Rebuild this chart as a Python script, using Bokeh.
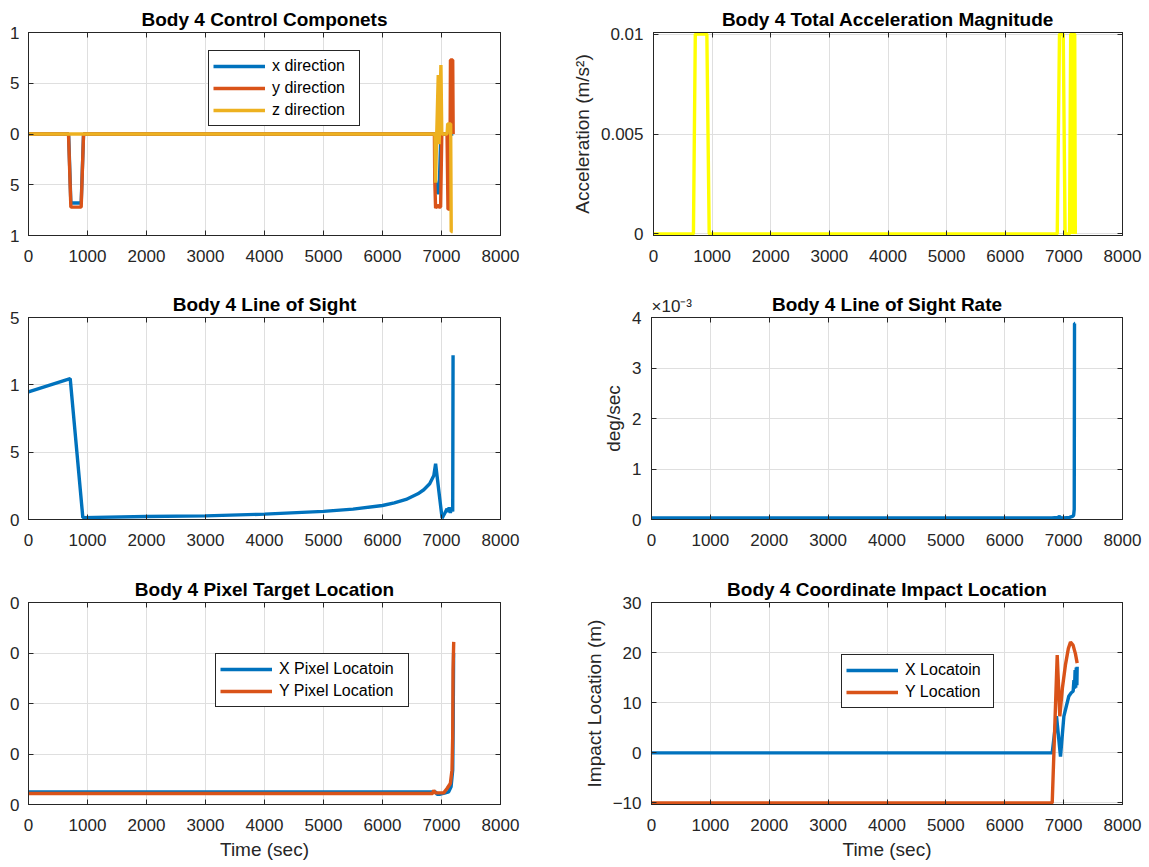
from bokeh.plotting import figure
from bokeh.layouts import column, row
from bokeh.models import Range1d, FixedTicker, Legend, LegendItem, Title, LinearAxis
from bokeh.embed import file_html
from bokeh.resources import INLINE

# ---------------- data ----------------
x_ticks = [0, 1000, 2000, 3000, 4000, 5000, 6000, 7000, 8000]

# Body 4 Control Componets
ctrl_x_t = [0, 680, 718, 893, 933, 6886, 6895, 6930, 6958, 6985, 7000, 7200]
ctrl_x = [0, 0, -0.68, -0.68, 0, 0, -0.45, -0.58, -0.58, -0.1, 0, 0]
ctrl_y_t = [0, 678, 718, 893, 933, 6880, 6886, 6900, 6930, 6960, 6985, 7005,
            7094, 7110, 7140, 7152, 7190, 7198]
ctrl_y = [0, 0, -0.72, -0.72, 0, 0, -0.46, -0.73, -0.70, -0.72, -0.72, 0,
          0, -0.74, -0.74, 0.73, 0.73, 0]
ctrl_z_t = [0, 6890, 6898, 6945, 6960, 6990, 7005, 7095, 7105, 7155, 7165, 7190]
ctrl_z = [0, 0, -0.48, 0.58, -0.1, 0.68, 0, 0, 0.1, 0.1, -0.96, -0.96]

# Body 4 Total Acceleration Magnitude
acc_t = [0, 681, 713, 910, 950, 6887, 6925, 6989, 7021, 7097, 7116, 7142,
         7150, 7161, 7185, 7195]
acc = [0, 0, 0.01, 0.01, 0, 0, 0.01, 0.01, 0, 0, 0.01, 0.01,
       0, 0.01, 0.01, 0]

# Body 4 Line of Sight
los_t = [0, 707, 921, 2000, 3000, 4000, 5000, 5500, 6000, 6200, 6400, 6600,
         6700, 6800, 6870, 6900, 7010, 7060, 7094, 7110, 7130, 7150, 7170,
         7190, 7196]
los = [0.947, 1.046, 0.014, 0.022, 0.027, 0.04, 0.06, 0.077, 0.104, 0.124,
       0.149, 0.191, 0.221, 0.265, 0.327, 0.414, 0.01, 0.05, 0.08, 0.055,
       0.09, 0.05, 0.08, 0.06, 1.22]

# Body 4 Line of Sight Rate (deg/sec, in units of 1e-3)
rate_t = [0, 6800, 6900, 6930, 6960, 7000, 7100, 7150, 7170, 7180, 7185, 7195]
rate_e3 = [0.03, 0.03, 0.04, 0.06, 0.03, 0.03, 0.04, 0.06, 0.08, 0.2, 3.88, 3.88]

# Body 4 Pixel Target Location
pix_x_t = [0, 6800, 6900, 6925, 6980, 7050, 7122, 7162, 7190, 7198, 7205]
pix_x = [125, 125, 124, 102, 102, 112, 125, 175, 340, 800, 1500]
pix_y_t = [0, 6850, 6868, 6890, 7038, 7094, 7150, 7178, 7190, 7196, 7207]
pix_y = [109, 109, 142, 115, 115, 158, 208, 340, 670, 1330, 1610]

# Body 4 Coordinate Impact Location
imp_x_t = [0, 6806, 6879, 6947, 7004, 7050, 7088, 7130, 7162, 7175, 7185,
           7195, 7205, 7215, 7225, 7230]
imp_x = [0, 0, 7.3, -0.75, 7.3, 9.5, 11.3, 12.0, 12.3, 14.5, 12.8, 16.5,
         13.0, 17.0, 13.5, 17.2]
imp_y_t = [0, 6806, 6891, 6935, 6980, 7030, 7080, 7117, 7160, 7200, 7230]
imp_y = [-10, -10, 19.5, 7.3, 13.0, 17.5, 20.8, 22.1, 21.5, 19.8, 17.9]

# ---------------- style ----------------
FONT = "Liberation Sans"
TXT = "#262626"
GRID = "#dfdfdf"
BLUE = "#0072BD"
ORANGE = "#D95319"
GOLD = "#EDB120"
YELLOW = "#FFFF00"
LW = 3.4


def style_axis(ax, standoff):
    ax.axis_line_color = TXT
    ax.major_tick_line_color = TXT
    ax.major_tick_in = 5
    ax.major_tick_out = 0
    ax.minor_tick_line_color = None
    ax.major_label_text_font = FONT
    ax.major_label_text_font_size = "17px"
    ax.major_label_text_color = TXT
    ax.major_label_standoff = standoff
    ax.axis_label_text_font = FONT
    ax.axis_label_text_font_size = "19px"
    ax.axis_label_text_font_style = "normal"
    ax.axis_label_text_color = TXT
    ax.axis_label_standoff = 5


def make_fig(width, height, borders, title, yr, yticks, overrides=None,
             ylabel=None, xlabel=None, ystand=10):
    left, right, top, bottom = borders
    p = figure(width=width, height=height, x_range=Range1d(0, 8000),
               y_range=Range1d(*yr), output_backend="svg",
               toolbar_location=None, min_border_left=left,
               min_border_right=right, min_border_top=top,
               min_border_bottom=bottom, title=title)
    p.title.text_font = FONT
    p.title.text_font_size = "19px"
    p.title.text_font_style = "bold"
    p.title.text_color = "#000000"
    p.title.align = "center"
    p.title.standoff = 5
    p.outline_line_color = TXT
    p.outline_line_alpha = 1
    p.outline_line_width = 1
    p.background_fill_color = "white"
    p.border_fill_color = "white"
    p.xaxis.ticker = FixedTicker(ticks=x_ticks)
    p.yaxis.ticker = FixedTicker(ticks=yticks)
    style_axis(p.xaxis[0], 14)
    style_axis(p.yaxis[0], ystand)
    if overrides is not None:
        p.yaxis.major_label_overrides = overrides
    if ylabel:
        p.yaxis.axis_label = ylabel
    if xlabel:
        p.xaxis.axis_label = xlabel
    p.grid.grid_line_color = GRID
    p.grid.grid_line_alpha = 1
    p.grid.grid_line_width = 1
    # inward ticks on the right and top sides (MATLAB box); no labels drawn
    for side, tk in (("right", yticks), ("above", x_ticks)):
        ax = LinearAxis(ticker=FixedTicker(ticks=tk))
        style_axis(ax, 0)
        ax.major_label_text_font_size = "1px"
        ax.major_label_text_color = None
        ax.major_label_standoff = 0
        p.add_layout(ax, side)
    return p


def make_legend(p, items, loc, label_width):
    leg = Legend(items=[LegendItem(label=l, renderers=[r]) for l, r in items],
                 location=loc)
    leg.border_line_color = TXT
    leg.border_line_width = 1
    leg.border_line_alpha = 1
    leg.background_fill_color = "white"
    leg.background_fill_alpha = 1
    leg.label_text_font = FONT
    leg.label_text_font_size = "16px"
    leg.label_text_color = "#000000"
    leg.glyph_width = 52
    leg.glyph_height = 22
    leg.label_height = 22
    leg.label_width = label_width
    leg.spacing = 0
    leg.padding = 4
    leg.margin = 0
    leg.label_standoff = 7
    p.add_layout(leg)


LEFT_B = (28, 68)
RIGHT_B = (83, 27)
W_L, W_R = 568, 581

# Row 1
p1 = make_fig(W_L, 280, (*LEFT_B, 32, 45), "Body 4 Control Componets", (-1, 1),
              [-1, -0.5, 0, 0.5, 1],
              overrides={-1: "1", -0.5: "5", 0: "0", 0.5: "5", 1: "1"}, ystand=9)
r1 = p1.line(ctrl_x_t, ctrl_x, line_color=BLUE, line_width=LW)
r2 = p1.line(ctrl_y_t, ctrl_y, line_color=ORANGE, line_width=LW)
r3 = p1.line(ctrl_z_t, ctrl_z, line_color=GOLD, line_width=LW)
make_legend(p1, [("x direction", r1), ("y direction", r2), ("z direction", r3)],
            (180, 109), 83)

p2 = make_fig(W_R, 280, (*RIGHT_B, 32, 45), "Body 4 Total Acceleration Magnitude",
              (-0.00008, 0.01008), [0, 0.005, 0.01],
              overrides={0: "0", 0.005: "0.005", 0.01: "0.01"},
              ylabel="Acceleration (m/s²)")
p2.line(acc_t, acc, line_color=YELLOW, line_width=LW)

# Row 2
p3 = make_fig(W_L, 285, (*LEFT_B, 37, 46), "Body 4 Line of Sight", (0, 1.5),
              [0, 0.5, 1, 1.5],
              overrides={0: "0", 0.5: "5", 1: "1", 1.5: "5"}, ystand=9)
p3.line(los_t, los, line_color=BLUE, line_width=LW)

p4 = make_fig(W_R, 285, (*RIGHT_B, 37, 46), "Body 4 Line of Sight Rate", (0, 4),
              [0, 1, 2, 3, 4], ylabel="deg/sec")
p4.line(rate_t, rate_e3, line_color=BLUE, line_width=LW)
# exponent note above the top-left corner, on the same line as the title
p4.add_layout(Title(text="×10⁻³", align="left", standoff=4, text_font=FONT,
                    text_font_size="17px", text_font_style="normal",
                    text_color=TXT), "above")
p4.title.standoff = -44

# Row 3
p5 = make_fig(W_L, 300, (*LEFT_B, 37, 61), "Body 4 Pixel Target Location",
              (0, 2000), [0, 500, 1000, 1500, 2000],
              overrides={0: "0", 500: "0", 1000: "0", 1500: "0", 2000: "0"},
              xlabel="Time (sec)", ystand=9)
q1 = p5.line(pix_x_t, pix_x, line_color=BLUE, line_width=LW)
q2 = p5.line(pix_y_t, pix_y, line_color=ORANGE, line_width=LW)
make_legend(p5, [("X Pixel Locatoin", q1), ("Y Pixel Location", q2)], (187, 97), 125)

p6 = make_fig(W_R, 300, (*RIGHT_B, 37, 61), "Body 4 Coordinate Impact Location",
              (-10.3, 30), [-10, 0, 10, 20, 30],
              ylabel="Impact Location (m)", xlabel="Time (sec)")
s1 = p6.line(imp_x_t, imp_x, line_color=BLUE, line_width=LW)
s2 = p6.line(imp_y_t, imp_y, line_color=ORANGE, line_width=LW)
make_legend(p6, [("X Locatoin", s1), ("Y Location", s2)], (190, 96), 84)

layout = column(row(p1, p2), row(p3, p4), row(p5, p6))

open("out.html", "w").write(file_html(layout, INLINE))
